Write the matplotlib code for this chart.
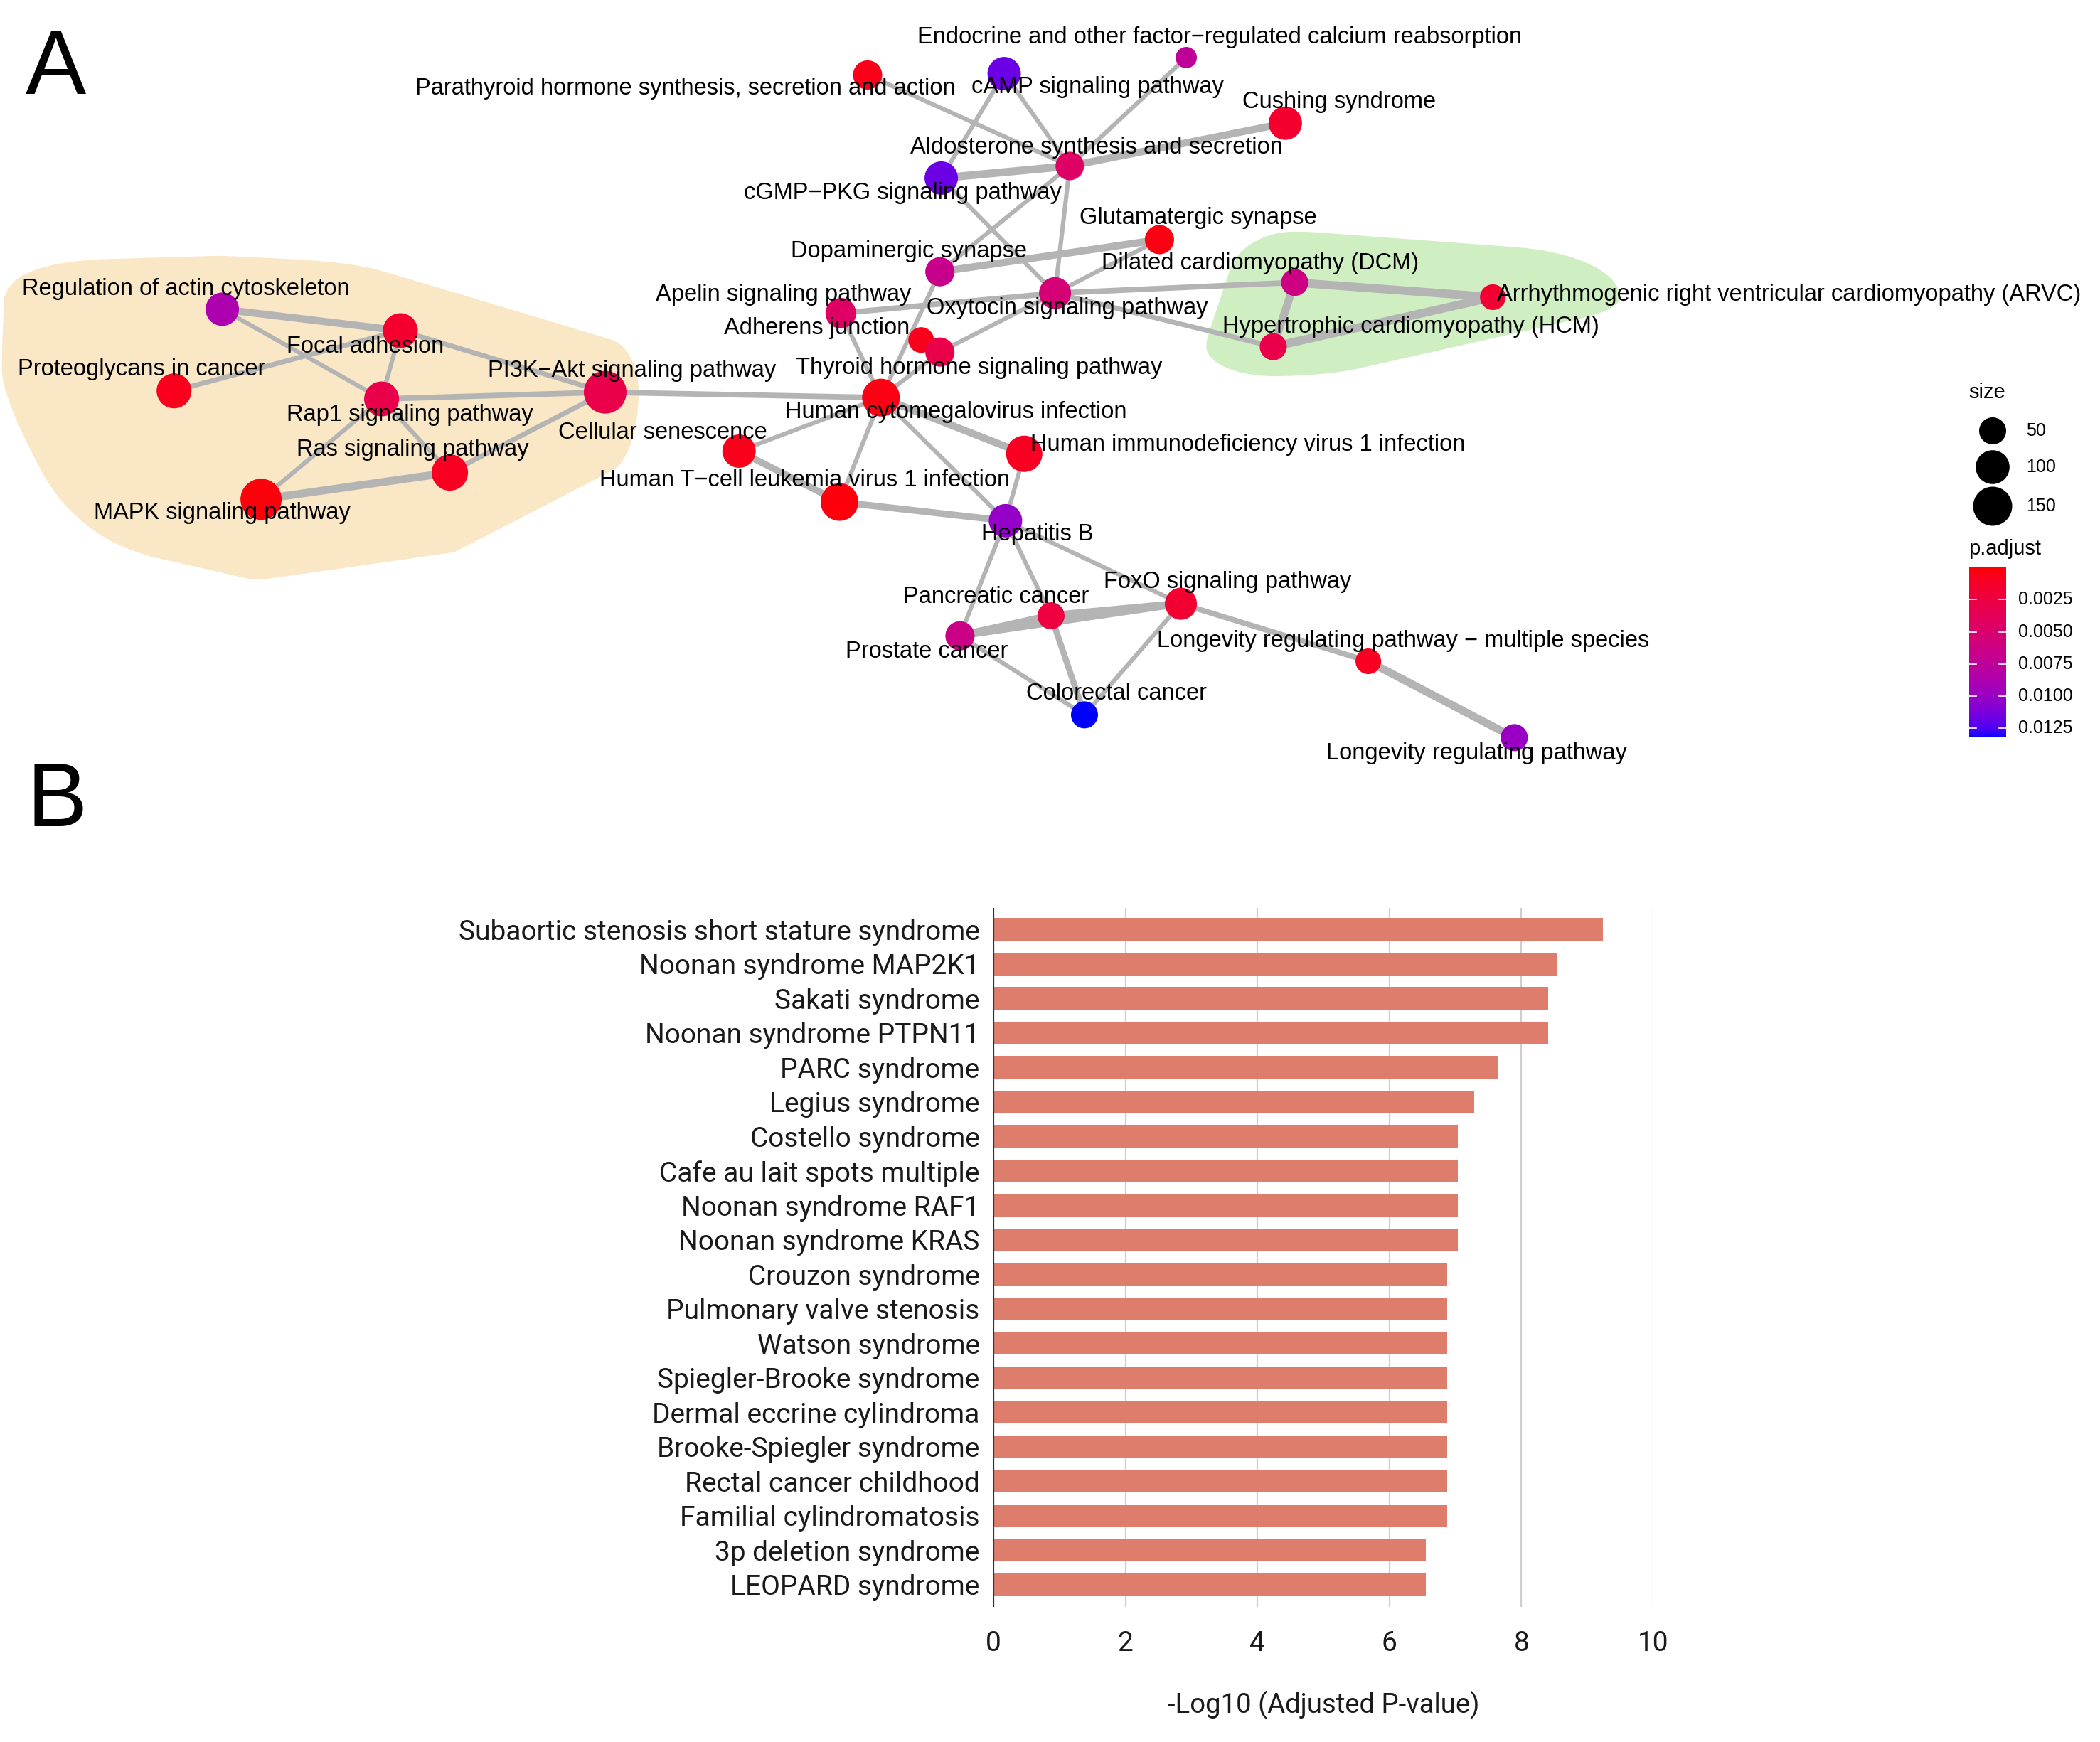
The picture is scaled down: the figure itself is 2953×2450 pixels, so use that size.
import numpy as np
import matplotlib
matplotlib.use("Agg")
import matplotlib.pyplot as plt
from matplotlib.collections import LineCollection
from matplotlib.colors import ListedColormap, Normalize
from matplotlib.patches import Polygon, Circle

# ---------------- DATA : panel A (enrichment map) ----------------
node_ids = ["endo", "camp", "pth", "cush", "aldo", "cgmp", "glut", "dopa", "dcm", "arvc",
            "oxy", "apel", "adh", "thyr", "hcm", "ract", "foc", "prot", "pi3k", "rap1",
            "hcmv", "sen", "ras", "hiv", "mapk", "htlv", "hepb", "panc", "foxo", "pros",
            "lmul", "colo", "long"]
node_labels = [
    "Endocrine and other factor\u2212regulated calcium reabsorption",
    "cAMP signaling pathway",
    "Parathyroid hormone synthesis, secretion and action",
    "Cushing syndrome",
    "Aldosterone synthesis and secretion",
    "cGMP\u2212PKG signaling pathway",
    "Glutamatergic synapse",
    "Dopaminergic synapse",
    "Dilated cardiomyopathy (DCM)",
    "Arrhythmogenic right ventricular cardiomyopathy (ARVC)",
    "Oxytocin signaling pathway",
    "Apelin signaling pathway",
    "Adherens junction",
    "Thyroid hormone signaling pathway",
    "Hypertrophic cardiomyopathy (HCM)",
    "Regulation of actin cytoskeleton",
    "Focal adhesion",
    "Proteoglycans in cancer",
    "PI3K\u2212Akt signaling pathway",
    "Rap1 signaling pathway",
    "Human cytomegalovirus infection",
    "Cellular senescence",
    "Ras signaling pathway",
    "Human immunodeficiency virus 1 infection",
    "MAPK signaling pathway",
    "Human T\u2212cell leukemia virus 1 infection",
    "Hepatitis B",
    "Pancreatic cancer",
    "FoxO signaling pathway",
    "Prostate cancer",
    "Longevity regulating pathway \u2212 multiple species",
    "Colorectal cancer",
    "Longevity regulating pathway",
]
# layout coordinates of the nodes
layout_x = [886, 750, 648, 960, 799, 703, 866, 702, 967, 1115,
            788, 628, 688, 702, 951, 166, 299, 130, 452, 285,
            658, 552, 336, 765, 195, 627, 751, 785, 882, 717,
            1022, 810, 1131]
layout_y = [43, 55, 56, 92, 124, 133, 179, 203, 211, 222,
            219, 234, 254, 263, 259, 231, 247, 292, 293, 298,
            297, 337, 353, 339, 373, 375, 389, 460, 451, 475,
            494, 534, 551]
# label positions (repelled)
label_x = [911, 820, 512, 1000, 819, 674, 895, 679, 941, 1336,
           797, 585, 610, 731, 1054, 139, 273, 106, 472, 306,
           714, 495, 308, 932, 166, 601, 775, 744, 917, 692,
           1048, 834, 1103]
label_y = [28, 65, 66, 76, 110, 144, 163, 188, 197, 220,
           230, 220, 245, 275, 244, 216, 259, 276, 277, 310,
           308, 323, 336, 332, 383, 359, 399, 446, 435, 487,
           479, 518, 563]
gene_count = [21, 96, 64, 96, 59, 96, 64, 64, 50, 42,
              85, 74, 42, 64, 50, 96, 109, 109, 190, 109,
              136, 96, 122, 122, 173, 136, 96, 50, 85, 64,
              42, 50, 50]
p_adjust = [0.0075, 0.0118, 0.0006, 0.0015, 0.0045, 0.0118, 0.0004, 0.0068, 0.0063, 0.0018,
            0.0055, 0.0045, 0.0008, 0.0030, 0.0030, 0.0088, 0.0015, 0.0008, 0.0030, 0.0030,
            0.0005, 0.0007, 0.0010, 0.0010, 0.0003, 0.0003, 0.0102, 0.0025, 0.0018, 0.0065,
            0.0010, 0.0132, 0.0100]
edge_from = ["pth", "camp", "camp", "endo", "cush", "cgmp", "cgmp", "aldo", "aldo", "dopa",
             "glut", "oxy", "oxy", "apel", "oxy", "dcm", "dcm", "hcm", "dopa", "apel",
             "thyr", "pi3k", "hcmv", "hcmv", "hcmv", "hcmv", "sen", "htlv", "hiv", "hepb",
             "hepb", "hepb", "pros", "pros", "panc", "pros", "panc", "foxo", "foxo", "lmul",
             "ract", "ract", "prot", "foc", "foc", "rap1", "rap1", "rap1", "ras", "mapk"]
edge_to = ["aldo", "cgmp", "aldo", "aldo", "aldo", "aldo", "oxy", "dopa", "oxy", "glut",
           "oxy", "dcm", "hcm", "oxy", "thyr", "arvc", "hcm", "arvc", "hcmv", "hcmv",
           "hcmv", "hcmv", "sen", "hiv", "hepb", "htlv", "htlv", "hepb", "hepb", "pros",
           "panc", "foxo", "panc", "foxo", "foxo", "colo", "colo", "colo", "lmul", "long",
           "foc", "rap1", "foc", "rap1", "pi3k", "pi3k", "ras", "mapk", "pi3k", "ras"]
edge_similarity = [0.2, 0.2, 0.2, 0.2, 0.45, 0.5, 0.2, 0.2, 0.2, 0.45,
                   0.2, 0.3, 0.25, 0.3, 0.2, 0.55, 0.5, 0.55, 0.2, 0.2,
                   0.2, 0.3, 0.2, 0.45, 0.2, 0.2, 0.4, 0.4, 0.2, 0.2,
                   0.2, 0.2, 0.5, 0.4, 0.5, 0.2, 0.35, 0.2, 0.3, 0.5,
                   0.45, 0.2, 0.25, 0.2, 0.25, 0.3, 0.2, 0.2, 0.25, 0.5]
cluster_members = [["ract", "foc", "prot", "pi3k", "rap1", "ras", "mapk"],
                   ["dcm", "arvc", "hcm"]]
cluster_label_nodes = [["ract", "prot", "mapk"], []]
cluster_colors = ["#F9E7C6", "#CFEFC3"]
cluster_pads = [(60, 25, 40, 60), (50, 95, 38, 22)]   # left, right, top, bottom

size_breaks = [50, 100, 150]
padj_ticks = [0.0025, 0.0050, 0.0075, 0.0100, 0.0125]
padj_limits = (0.0000, 0.0132)

# ---------------- DATA : panel B (bar chart) ----------------
diseases = ["Subaortic stenosis short stature syndrome", "Noonan syndrome MAP2K1",
            "Sakati syndrome", "Noonan syndrome PTPN11", "PARC syndrome", "Legius syndrome",
            "Costello syndrome", "Cafe au lait spots multiple", "Noonan syndrome RAF1",
            "Noonan syndrome KRAS", "Crouzon syndrome", "Pulmonary valve stenosis",
            "Watson syndrome", "Spiegler-Brooke syndrome", "Dermal eccrine cylindroma",
            "Brooke-Spiegler syndrome", "Rectal cancer childhood", "Familial cylindromatosis",
            "3p deletion syndrome", "LEOPARD syndrome"]
neg_log10_padj = [9.23, 8.55, 8.40, 8.40, 7.65, 7.28, 7.04, 7.04, 7.04, 7.04,
                  6.88, 6.88, 6.88, 6.88, 6.88, 6.88, 6.88, 6.88, 6.55, 6.55]
x_ticks = [0, 2, 4, 6, 8, 10]

# ---------------- helpers ----------------
_M = np.array([[0.4124564, 0.3575761, 0.1804375],
               [0.2126729, 0.7151522, 0.0721750],
               [0.0193339, 0.1191920, 0.9503041]])
_WHITE = _M @ np.ones(3)


def _lin(c):
    c = np.asarray(c, float)
    return np.where(c <= 0.04045, c / 12.92, ((c + 0.055) / 1.055) ** 2.4)


def _gam(c):
    c = np.clip(c, 0, None)
    return np.where(c <= 0.0031308, 12.92 * c, 1.055 * np.power(c, 1 / 2.4) - 0.055)


def _f(t):
    d = 6 / 29
    return np.where(t > d ** 3, np.cbrt(t), t / (3 * d * d) + 4 / 29)


def _finv(t):
    d = 6 / 29
    return np.where(t > d, t ** 3, 3 * d * d * (t - 4 / 29))


def rgb2lab(rgb):
    fx, fy, fz = _f((_M @ _lin(rgb)) / _WHITE)
    return np.array([116 * fy - 16, 500 * (fx - fy), 200 * (fy - fz)])


def lab2rgb(lab):
    L, a, b = lab
    fy = (L + 16) / 116
    xyz = _WHITE * np.array([_finv(fy + a / 500), _finv(fy), _finv(fy - b / 200)])
    return np.clip(_gam(np.linalg.solve(_M, xyz)), 0, 1)


lab_lo, lab_hi = rgb2lab([1, 0, 0]), rgb2lab([0, 0, 1])
cmap = ListedColormap([lab2rgb(lab_lo + t * (lab_hi - lab_lo)) for t in np.linspace(0, 1, 256)])
norm = Normalize(*padj_limits)

DPI = 100
W, H = 2953, 2450
SC = 1.8827          # figure pixels per layout unit
NET_FS = 23.5


def node_diam_px(s):
    return 14.8 + 3.28 * np.sqrt(np.asarray(s, float))


def ms_pts2(s):
    return (node_diam_px(s) * 72 / DPI) ** 2


def convex_hull(pts):
    pts = sorted(set(map(tuple, np.round(pts, 3))))

    def cross(o, a, b):
        return (a[0] - o[0]) * (b[1] - o[1]) - (a[1] - o[1]) * (b[0] - o[0])
    lower, upper = [], []
    for p in pts:
        while len(lower) >= 2 and cross(lower[-2], lower[-1], p) <= 0:
            lower.pop()
        lower.append(p)
    for p in reversed(pts):
        while len(upper) >= 2 and cross(upper[-2], upper[-1], p) <= 0:
            upper.pop()
        upper.append(p)
    return np.array(lower[:-1] + upper[:-1])


def chaikin(poly, it=3):
    for _ in range(it):
        nxt = np.roll(poly, -1, axis=0)
        poly = np.vstack([np.column_stack([0.75 * poly[:, 0] + 0.25 * nxt[:, 0],
                                           0.75 * poly[:, 1] + 0.25 * nxt[:, 1]]),
                          np.column_stack([0.25 * poly[:, 0] + 0.75 * nxt[:, 0],
                                           0.25 * poly[:, 1] + 0.75 * nxt[:, 1]])]
                         ).reshape(2, -1, 2).transpose(1, 0, 2).reshape(-1, 2)
    return poly


# ---------------- figure ----------------
plt.rcParams["font.family"] = ["Liberation Sans", "DejaVu Sans"]
fig = plt.figure(figsize=(W / DPI, H / DPI), dpi=DPI, facecolor="white")

ax = fig.add_axes([0, 0, 1, 1])
ax.set_xlim(0, W / SC)
ax.set_ylim(H / SC, 0)
ax.axis("off")

idx = {k: i for i, k in enumerate(node_ids)}
lx = np.array(layout_x, float)
ly = np.array(layout_y, float)

# cluster hulls
th = np.linspace(0, 2 * np.pi, 72, endpoint=False)
fig.canvas.draw()
for members, lab_nodes, col, (pl, pr, pt, pb) in zip(cluster_members, cluster_label_nodes,
                                                     cluster_colors, cluster_pads):
    pts = []
    for m in members:
        i = idx[m]
        c, s = np.cos(th), np.sin(th)
        dx = np.where(c > 0, c * pr, c * pl)
        dy = np.where(s > 0, s * pb, s * pt)
        pts.append(np.column_stack([lx[i] + dx, ly[i] + dy]))
    for m in lab_nodes:
        i = idx[m]
        t = ax.text(label_x[i], label_y[i], node_labels[i], fontsize=NET_FS,
                    ha="center", va="center")
        bb = t.get_window_extent(renderer=fig.canvas.get_renderer()).transformed(
            ax.transData.inverted())
        t.remove()
        x0, x1 = min(bb.x0, bb.x1), max(bb.x0, bb.x1)
        y0, y1 = min(bb.y0, bb.y1), max(bb.y0, bb.y1)
        pts.append(np.column_stack([np.array([x0 - 12, x1, x0 - 12, x1]),
                                    np.array([y0 - 12, y0 - 12, y1 + 12, y1 + 12])]))
    hull = chaikin(convex_hull(np.vstack(pts)), 3)
    ax.add_patch(Polygon(hull, closed=True, facecolor=col, edgecolor="none", zorder=0))

# edges
segs = [[(lx[idx[a]], ly[idx[a]]), (lx[idx[b]], ly[idx[b]])] for a, b in zip(edge_from, edge_to)]
lws = [2.0 + 12.0 * w for w in edge_similarity]
ax.add_collection(LineCollection(segs, colors="#B4B4B4", linewidths=lws, zorder=1,
                                 capstyle="butt"))

# nodes
ax.scatter(lx, ly, s=ms_pts2(gene_count), c=p_adjust, cmap=cmap, norm=norm,
           edgecolors="none", zorder=2)

# labels
for i, lab in enumerate(node_labels):
    ax.text(label_x[i], label_y[i], lab, fontsize=NET_FS, ha="center", va="center",
            color="black", zorder=3)

# ---------------- pixel overlay: panel letters and legends ----------------
axp = fig.add_axes([0, 0, 1, 1], zorder=5)
axp.set_xlim(0, W)
axp.set_ylim(H, 0)
axp.axis("off")
axp.text(36, 132, "A", fontsize=92, ha="left", va="baseline", color="black")
axp.text(38, 1162, "B", fontsize=92, ha="left", va="baseline", color="black")

axp.text(2768, 552, "size", fontsize=21, ha="left", va="center")
for s, yy in zip(size_breaks, [606, 657, 712]):
    axp.add_patch(Circle((2802, yy), node_diam_px(s) / 2, facecolor="black", edgecolor="none"))
    axp.text(2849, yy, str(s), fontsize=18, ha="left", va="center")
axp.text(2768, 772, "p.adjust", fontsize=21, ha="left", va="center")

cb_top, cb_bot, cb_l, cb_r = 798, 1037, 2769, 2821
cax = fig.add_axes([cb_l / W, 1 - cb_bot / H, (cb_r - cb_l) / W, (cb_bot - cb_top) / H], zorder=5)
grad = np.linspace(padj_limits[0], padj_limits[1], 300).reshape(-1, 1)
cax.imshow(grad, aspect="auto", cmap=cmap, norm=norm,
           extent=[0, 1, padj_limits[1], padj_limits[0]])
cax.set_xlim(0, 1)
cax.set_ylim(padj_limits[1], padj_limits[0])
cax.axis("off")
for tv in padj_ticks:
    cax.plot([0, 0.2], [tv, tv], color="white", lw=1.2)
    cax.plot([0.8, 1.0], [tv, tv], color="white", lw=1.2)
    yy = cb_top + (tv - padj_limits[0]) / (padj_limits[1] - padj_limits[0]) * (cb_bot - cb_top)
    axp.text(2838, yy, f"{tv:.4f}", fontsize=18, ha="left", va="center")

# ---------------- panel B ----------------
bx0, bx1, by0, by1 = 1397, 2325, 1277, 2260
axb = fig.add_axes([bx0 / W, 1 - by1 / H, (bx1 - bx0) / W, (by1 - by0) / H])
ypos = np.arange(len(diseases))
axb.barh(ypos, neg_log10_padj, height=0.66, color="#DF7D6C", zorder=2)
axb.set_ylim(len(diseases) - 1 + 0.64, -0.62)
axb.set_xlim(0, 10)
for xv in x_ticks[1:]:
    axb.axvline(xv, color="#CFCFCF", lw=1.6, zorder=1)
axb.axvline(0, color="#333333", lw=1.6, zorder=3)
for sp in axb.spines.values():
    sp.set_visible(False)
axb.set_yticks(ypos)
axb.set_yticklabels(diseases, fontsize=28, family="Roboto", color="#1a1a1a")
axb.set_xticks(x_ticks)
axb.set_xticklabels([str(v) for v in x_ticks], fontsize=28, family="Roboto", color="#1a1a1a")
axb.tick_params(axis="both", length=0)
axb.tick_params(axis="y", pad=14)
axb.tick_params(axis="x", pad=24)
axb.set_xlabel("-Log10 (Adjusted P-value)", fontsize=27.5, family="Roboto", color="#1a1a1a",
               labelpad=34)
axb.patch.set_alpha(0)

fig.savefig("out.png", dpi=DPI, facecolor="white")
